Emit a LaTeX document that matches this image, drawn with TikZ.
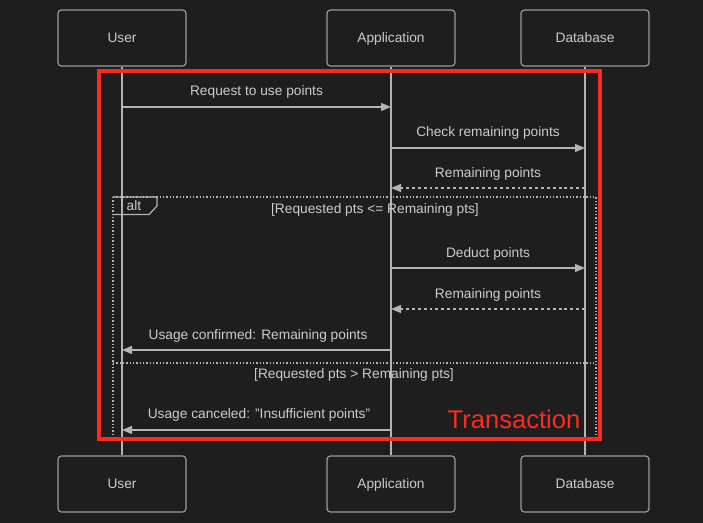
\documentclass[tikz,border=0pt]{standalone}
\usepackage{fontspec}
\setmainfont{Liberation Sans}
\usetikzlibrary{arrows.meta}
\definecolor{bg}{HTML}{1E1E1E}
\definecolor{txt}{HTML}{CCCCCC}
\definecolor{ln}{HTML}{B4B4B4}
\definecolor{bx}{HTML}{9A9A9A}
\definecolor{redf}{HTML}{FF2A1F}
\tikzset{
  actor/.style={draw=bx, line width=0.9pt, fill=bg, rounded corners=2.5pt, minimum width=96pt, minimum height=42pt, text=txt, text height=7.4pt, text depth=0pt, font=\fontsize{10.3pt}{12pt}\selectfont},
  lifeline/.style={draw=ln, line width=0.9pt},
  msg/.style={draw=ln, line width=0.9pt, -{Triangle[length=7.5pt,width=6pt]}},
  reply/.style={msg, dash pattern=on 2.2pt off 2.2pt},
  lbl/.style={text=txt, font=\fontsize{10.3pt}{12pt}\selectfont, inner sep=0pt, anchor=base},
  frame/.style={draw=ln, line width=0.9pt, dash pattern=on 1.1pt off 1.4pt},
}
\begin{document}
\begin{tikzpicture}[x=0.75pt,y=-0.75pt]
\fill[bg] (0,0) rectangle (703,523);
\useasboundingbox (0,0) rectangle (703,523);
% actors
\node[actor] (u) at (122,38) {User};
\node[actor] (a) at (391,38) {Application};
\node[actor] (d) at (585,38) {Database};
\node[actor] (ub) at (122,484) {User};
\node[actor] (ab) at (391,484) {Application};
\node[actor] (db) at (585,484) {Database};
\draw[lifeline] (u.south) -- (ub.north);
\draw[lifeline] (a.south) -- (ab.north);
\draw[lifeline] (d.south) -- (db.north);
% alt frame
\coordinate (f1) at (113,197);
\coordinate (f2) at (596,438);
\draw[frame] (f1) rectangle (f2);
\draw[draw=ln, line width=0.9pt] (113,197) -- (157,197) -- (157,206) -- (149,214.5) -- (113,214.5);
\node[lbl] (alt) at (134,211) {alt};
\node[lbl] (g1) at (375,214) {[Requested pts <= Remaining pts]};
\coordinate (s1) at (113,363);
\coordinate (s2) at (596,363);
\draw[frame] (s1) -- (s2);
\node[lbl] (g2) at (354,379) {[Requested pts > Remaining pts]};
% messages
\coordinate (m1a) at (122,107); \coordinate (m1b) at (391,107);
\draw[msg] (m1a) -- (m1b);
\node[lbl] (t1) at (256.5,96) {Request to use points};
\coordinate (m2a) at (391,148); \coordinate (m2b) at (585,148);
\draw[msg] (m2a) -- (m2b);
\node[lbl] (t2) at (488,137) {Check remaining points};
\coordinate (m3a) at (585,188); \coordinate (m3b) at (391,188);
\draw[reply] (m3a) -- (m3b);
\node[lbl] (t3) at (488,178) {Remaining points};
\coordinate (m4a) at (391,268); \coordinate (m4b) at (585,268);
\draw[msg] (m4a) -- (m4b);
\node[lbl] (t4) at (488,258) {Deduct points};
\coordinate (m5a) at (585,309); \coordinate (m5b) at (391,309);
\draw[reply] (m5a) -- (m5b);
\node[lbl] (t5) at (488,299) {Remaining points};
\coordinate (m6a) at (391,350); \coordinate (m6b) at (122,350);
\draw[msg] (m6a) -- (m6b);
\node[lbl] (t6) at (258,340) {Usage confirmed: Remaining points};
\coordinate (m7a) at (391,430); \coordinate (m7b) at (122,430);
\draw[msg] (m7a) -- (m7b);
\node[lbl] (t7) at (259,419) {Usage canceled: \symbol{34}Insufficient points\symbol{34}};
% transaction box
\draw[draw=redf, line width=3.2pt] (99,71) rectangle (600,439);
\node[text=redf, inner sep=0pt, anchor=base, font=\fontsize{19.2pt}{22pt}\selectfont] (tr) at (514,429) {Transaction};
\end{tikzpicture}
\end{document}
